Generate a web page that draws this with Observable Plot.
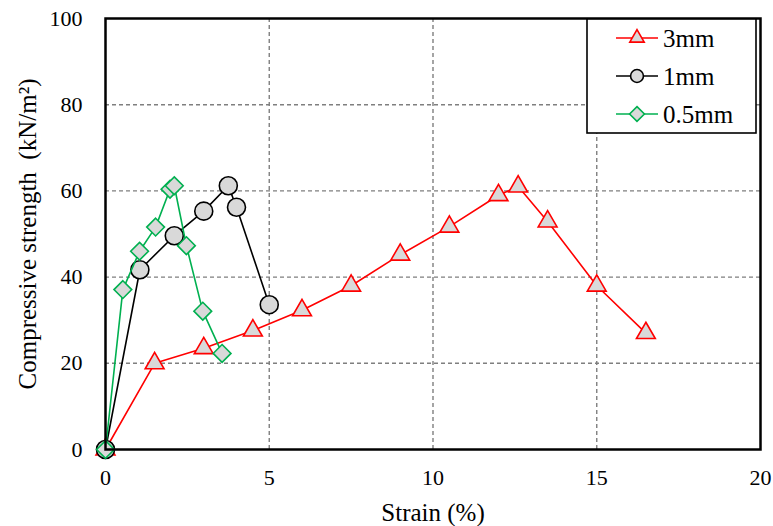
<!DOCTYPE html>
<html>
<head>
<meta charset="utf-8">
<script src="https://cdn.jsdelivr.net/npm/d3@7"></script>
<script src="https://cdn.jsdelivr.net/npm/@observablehq/plot@0.6"></script>
<style>
  html, body { margin: 0; padding: 0; background: #fff; font-family: 'Liberation Serif', serif; }
  #chart { position: relative; width: 773px; height: 526px; }
  #chart svg text, #chart svg tspan, #chart svg g, #chart svg { font-family: 'Liberation Serif', serif !important; }
</style>
</head>
<body>
<div id="chart"></div>
<script>
// ---- data ----
const seriesNames = ["3mm", "1mm", "0.5mm"];
const strain3 = [0, 1.5, 3, 4.5, 6, 7.5, 9, 10.5, 12, 12.6, 13.5, 15, 16.5];
const stress3 = [0, 20, 23.5, 27.6, 32.3, 38, 45.2, 51.7, 59, 61, 52.9, 38, 27];
const strain1 = [0, 1.05, 2.1, 3, 3.75, 4, 5];
const stress1 = [0, 41.7, 49.6, 55.3, 61.2, 56.2, 33.6];
const strain05 = [0, 0.53, 1.04, 1.53, 1.97, 2.1, 2.47, 2.97, 3.56];
const stress05 = [0, 37.1, 46, 51.6, 60.4, 61.2, 47.3, 32.1, 22.3];
const xTicks = [0, 5, 10, 15, 20];
const yTicks = [0, 20, 40, 60, 80, 100];
const xTitle = "Strain (%)";
const yTitle = "Compressive strength  (kN/m\u00B2)";

// ---- build ----
const toRows = (xs, ys, name) => xs.map((x, i) => ({x, y: ys[i], series: name}));
const d3mm = toRows(strain3, stress3, seriesNames[0]);
const d1mm = toRows(strain1, stress1, seriesNames[1]);
const d05mm = toRows(strain05, stress05, seriesNames[2]);

const colors = {"3mm": "#ff0000", "1mm": "#000000", "0.5mm": "#00b050"};
const symbols = {"3mm": "triangle", "1mm": "circle", "0.5mm": "diamond2"};
const radii = {"3mm": 7, "1mm": 9, "0.5mm": 8};
const fillGray = "#d9d9d9";
const serif = "'Liberation Serif', serif";

function seriesMarks(data, name) {
  return [
    Plot.line(data, {x: "x", y: "y", stroke: colors[name], strokeWidth: 1.6}),
    Plot.dot(data, {x: "x", y: "y", symbol: () => symbols[name], r: radii[name],
      fill: fillGray, stroke: colors[name], strokeWidth: 1.6})
  ];
}

const chart = Plot.plot({
  width: 773,
  height: 526,
  marginLeft: 105,
  marginRight: 13,
  marginTop: 18,
  marginBottom: 77,
  style: {fontFamily: serif, fontSize: "22px", color: "#000", background: "#fff"},
  symbol: {type: "identity"},
  x: {domain: [0, 20]},
  y: {domain: [0, 100]},
  marks: [
    Plot.gridX(xTicks.slice(1, -1), {stroke: "#7f7f7f", strokeOpacity: 1, strokeWidth: 1.4, strokeDasharray: "4,3"}),
    Plot.gridY(yTicks.slice(1, -1), {stroke: "#7f7f7f", strokeOpacity: 1, strokeWidth: 1.4, strokeDasharray: "4,3"}),
    Plot.axisX(xTicks, {tickSize: 0, tickPadding: 20, label: null, fontSize: 22, fontFamily: "Liberation Serif"}),
    Plot.axisY(yTicks, {tickSize: 0, tickPadding: 23, label: null, fontSize: 22, fontFamily: "Liberation Serif"}),
    Plot.text([xTitle], {frameAnchor: "bottom", dy: 63, lineAnchor: "middle", text: d => d, fontSize: 25, fontFamily: "Liberation Serif"}),
    Plot.text([yTitle], {frameAnchor: "left", dx: -78, dy: 0, rotate: -90, textAnchor: "middle", lineAnchor: "middle", text: d => d, fontSize: 25, fontFamily: "Liberation Serif"}),
    ...seriesMarks(d3mm, "3mm"),
    ...seriesMarks(d1mm, "1mm"),
    ...seriesMarks(d05mm, "0.5mm"),
    Plot.frame({stroke: "#000", strokeWidth: 2.5})
  ]
});

document.getElementById("chart").appendChild(chart);

// ---- legend (inside the svg) ----
const svg = d3.select(chart);
const lg = svg.append("g").attr("transform", "translate(587,19)");
lg.append("rect").attr("x", 0).attr("y", 0).attr("width", 169).attr("height", 114)
  .attr("fill", "#fff").attr("stroke", "#000").attr("stroke-width", 1.6);
const legendSym = {"3mm": [d3.symbolTriangle, 90], "1mm": [d3.symbolCircle, 130], "0.5mm": [d3.symbolDiamond2, 140]};
seriesNames.forEach((name, i) => {
  const cy = 19 + i * 38;
  const g = lg.append("g").attr("transform", `translate(0,${cy})`);
  g.append("line").attr("x1", 29).attr("x2", 71).attr("y1", 0).attr("y2", 0)
    .attr("stroke", colors[name]).attr("stroke-width", 1.6);
  g.append("path").attr("transform", "translate(50,0)")
    .attr("d", d3.symbol(legendSym[name][0], legendSym[name][1])())
    .attr("fill", fillGray).attr("stroke", colors[name]).attr("stroke-width", 1.6);
  g.append("text").attr("x", 76).attr("y", 0).attr("dy", "0.35em")
    .attr("text-anchor", "start")
    .attr("font-size", 25).attr("fill", "#000").text(name);
});

// force serif font everywhere in the svg (inline !important beats any stylesheet)
function forceSerif() {
  svg.attr("font-family", "Liberation Serif").style("font-family", serif, "important");
  svg.selectAll("g").filter(function() { return this.hasAttribute("font-family"); })
    .attr("font-family", "Liberation Serif").style("font-family", serif, "important");
  svg.selectAll("text, tspan").attr("font-family", "Liberation Serif").style("font-family", serif, "important");
}
forceSerif();
setTimeout(forceSerif, 0);
requestAnimationFrame(forceSerif);
</script>
</body>
</html>
